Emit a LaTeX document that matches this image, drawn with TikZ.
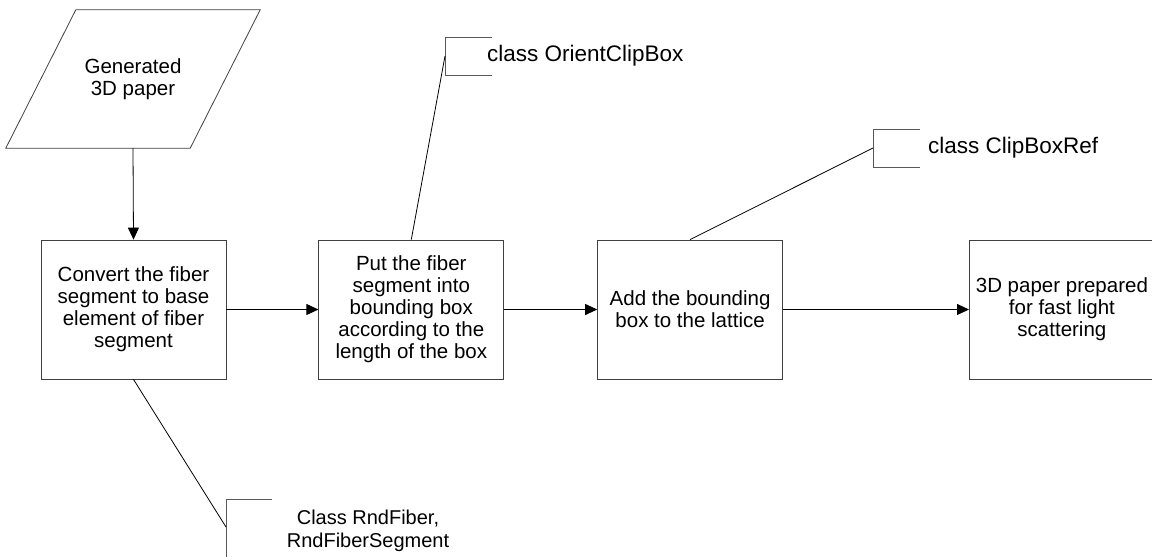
\documentclass[tikz,border=0pt]{standalone}
\usepackage{fontspec}
\setmainfont{Liberation Sans}
\usepackage{tikz}
\usetikzlibrary{arrows.meta, positioning, calc}

\begin{document}
\begin{tikzpicture}[x=1pt, y=-1pt,
  every node/.style={font=\fontsize{20.5}{22}\selectfont},
  stepbox/.style={draw=black!75, line width=0.8pt, minimum width=185pt, minimum height=139pt, align=center, inner sep=0pt},
  flow/.style={-{Triangle[length=12pt, width=11pt]}, line width=0.8pt},
  note/.style={line width=0.8pt},
  bracket/.style={draw=black!65, line width=0.8pt}]
\useasboundingbox (0,0) rectangle (1152,557);

% Input paper (parallelogram)
\node[minimum width=254pt, minimum height=138pt, inner sep=0pt, align=center] (paper) at (133,79) {Generated\\3D paper};
\draw[draw=black!75, line width=0.8pt] ($(paper.north west)+(70,0)$) -- (paper.north east)
  -- ($(paper.south east)+(-70,0)$) -- (paper.south west) -- cycle;

% Processing steps
\node[stepbox] (conv) at (133.5,309.5) {Convert the fiber\\segment to base\\element of fiber\\segment};
\node[stepbox, right=92pt of conv] (boxput) {Put the fiber\\segment into\\bounding box\\according to the\\length of the box};
\node[stepbox, right=93pt of boxput] (lattice) {Add the bounding\\box to the lattice};
\node[stepbox, right=186pt of lattice] (ready) {3D paper prepared\\for fast light\\scattering};

\draw[flow] (paper.south) -- (conv.north);
\draw[flow] (conv) -- (boxput);
\draw[flow] (boxput) -- (lattice);
\draw[flow] (lattice) -- (ready);

% Class annotations
\coordinate (orientbr) at (445,56);
\draw[bracket] ($(orientbr)+(47,-19)$) -- ++(-47,0) -- ++(0,38) -- ++(47,0);
\node[anchor=west, inner sep=0pt, font=\fontsize{22.5}{24}\selectfont] (orienttxt) at (487,56) {class OrientClipBox};
\draw[note] (boxput.north) -- (orientbr);

\coordinate (clipbr) at (873,148);
\draw[bracket] ($(clipbr)+(47,-19)$) -- ++(-47,0) -- ++(0,38) -- ++(47,0);
\node[anchor=west, inner sep=0pt, font=\fontsize{22.5}{24}\selectfont] (cliptxt) at (928,148) {class ClipBoxRef};
\draw[note] (lattice.north) -- (clipbr);

\coordinate (fiberbr) at (226,527);
\draw[bracket] ($(fiberbr)+(46,-28)$) -- ++(-46,0) -- ++(0,58) -- ++(46,0);
\node[align=center, inner sep=0pt, font=\fontsize{20}{23}\selectfont] (fibertxt) at (368,531) {Class RndFiber,\\RndFiberSegment};
\draw[note] (conv.south) -- (fiberbr);
\end{tikzpicture}
\end{document}
